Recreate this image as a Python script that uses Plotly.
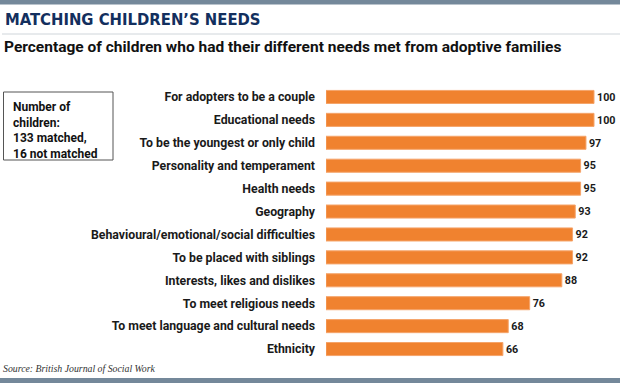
import plotly.graph_objects as go

categories = [
    "For adopters to be a couple",
    "Educational needs",
    "To be the youngest or only child",
    "Personality and temperament",
    "Health needs",
    "Geography",
    "Behavioural/emotional/social difficulties",
    "To be placed with siblings",
    "Interests, likes and dislikes",
    "To meet religious needs",
    "To meet language and cultural needs",
    "Ethnicity",
]
values = [100, 100, 97, 95, 95, 93, 92, 92, 88, 76, 68, 66]

title_text = "MATCHING CHILDREN’S NEEDS"
subtitle_text = "Percentage of children who had their different needs met from adoptive families"
box_text = "Number of<br>children:<br>133 matched,<br>16 not matched"
source_text = "Source: British Journal of Social Work"

W, H = 620, 384
L, R = 326, 5
px_per_unit = 2.68
xmax = (W - L - R) / px_per_unit
TOP, BOT = 85.5, 360.5


def px(x):
    return x / W


def py(y):
    return 1 - y / H


fig = go.Figure(go.Bar(
    x=values, y=categories, orientation="h",
    marker=dict(color="#f0822f", line=dict(color="#f5a46a", width=1)),
    width=0.57,
    text=[str(v) for v in values], textposition="outside",
    textfont=dict(family="Roboto", size=11.5, color="#1a1a1a", weight="bold"),
    cliponaxis=False,
    hoverinfo="skip",
))

fig.update_layout(
    width=W, height=H,
    margin=dict(l=0, r=0, t=0, b=0, autoexpand=False),
    paper_bgcolor="white", plot_bgcolor="white",
    showlegend=False,
    xaxis=dict(range=[0, xmax], visible=False, fixedrange=True,
               domain=[px(L), px(W - R)]),
    yaxis=dict(
        categoryorder="array", categoryarray=categories,
        autorange="reversed", showgrid=False, zeroline=False, showline=False,
        ticks="", ticklabelstandoff=10, domain=[py(BOT), py(TOP)], fixedrange=True,
        tickfont=dict(family="Roboto", size=12.3, color="#1a1a1a", weight="bold"),
    ),
    shapes=[
        dict(type="rect", xref="paper", yref="paper", x0=0, x1=1,
             y0=py(4.5), y1=1, fillcolor="#74889a", line=dict(width=0)),
        dict(type="line", xref="paper", yref="paper", x0=px(2), x1=1,
             y0=py(34), y1=py(34), line=dict(color="#cfd5da", width=1)),
        dict(type="rect", xref="paper", yref="paper", x0=0, x1=1,
             y0=py(383), y1=py(378), fillcolor="#74889a", line=dict(width=0)),
        dict(type="rect", xref="paper", yref="paper", x0=px(3.5), x1=px(113),
             y0=py(160), y1=py(92), line=dict(color="#555555", width=1),
             fillcolor="rgba(0,0,0,0)"),
    ],
    annotations=[
        dict(text=title_text, xref="paper", yref="paper", x=px(3), y=py(8),
             xanchor="left", yanchor="top", showarrow=False,
             font=dict(family="DejaVu Sans Condensed", size=16.5, color="#132f5e", weight="bold")),
        dict(text=subtitle_text, xref="paper", yref="paper", x=px(2), y=py(36),
             xanchor="left", yanchor="top", showarrow=False,
             font=dict(family="Roboto", size=15.5, color="#111111", weight="bold")),
        dict(text=box_text, xref="paper", yref="paper", x=px(11), y=py(98),
             xanchor="left", yanchor="top", align="left", showarrow=False,
             font=dict(family="Roboto", size=12, color="#111111", weight="bold")),
        dict(text=source_text, xref="paper", yref="paper", x=px(1), y=py(361),
             xanchor="left", yanchor="top", showarrow=False,
             font=dict(family="Liberation Serif", size=9.8, color="#333333", style="italic")),
    ],
)

fig.write_html("out.html", config={"displayModeBar": False, "staticPlot": True},
               post_script="document.body.style.margin='0';")
